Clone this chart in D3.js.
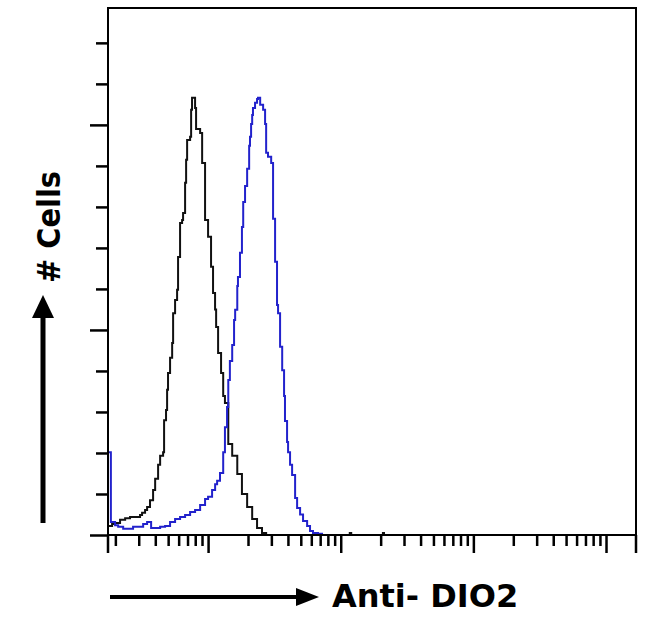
<!DOCTYPE html>
<html>
<head>
<meta charset="utf-8">
<script src="https://cdn.jsdelivr.net/npm/d3@7/dist/d3.min.js"></script>
<style>
  html, body { margin: 0; padding: 0; background: #fff; }
  svg { display: block; }
</style>
</head>
<body>
<svg id="chart" width="650" height="634"></svg>
<script>
// ---- data (fluorescence intensity, log axis; counts, linear axis) ----
const controlX = [1.76, 1.89, 1.99, 2.17, 2.37, 2.58, 2.82, 3.07, 3.18, 3.35, 3.47, 3.65, 3.85, 3.99, 4.20, 4.35, 4.58, 4.66, 4.82, 4.91, 4.99, 5.17, 5.36, 5.45, 5.64, 5.84, 5.94, 6.15, 6.37, 6.48, 6.71, 6.83, 6.95, 7.32, 7.45, 7.57, 7.70, 7.98, 8.12, 8.71, 9.02, 9.49, 10.0, 10.53, 10.9, 11.29, 11.5, 11.9, 12.53, 13.0, 13.4, 14.2, 15.2, 16.6, 18.0, 19.7, 21.5, 23.4, 25.5, 27.4, 117, 120, 208, 212];
const controlCounts = [2.2, 2.7, 2.9, 3.7, 4.1, 4.4, 4.4, 4.9, 5.4, 6.1, 6.8, 8.5, 11.0, 13.7, 17.1, 19.3, 20.2, 28.0, 30.5, 35.4, 39.5, 43.2, 46.8, 54.1, 57.3, 59.8, 67.8, 76.1, 76.8, 78.5, 85.9, 91.5, 96.3, 97.1, 103.7, 106.6, 106.6, 104.1, 99.0, 98.0, 90.7, 76.8, 72.7, 65.4, 59.0, 55.0, 50.7, 44.4, 39.5, 33.9, 32.2, 22.2, 19.3, 14.9, 10.0, 6.8, 3.9, 1.7, 0.5, 0, 0.5, 0, 0.5, 0];

const dio2X = [1.76, 1.82, 1.85, 1.99, 2.10, 2.29, 2.49, 2.72, 2.97, 3.24, 3.47, 3.72, 3.99, 4.35, 4.74, 5.17, 5.64, 6.15, 6.71, 7.32, 7.98, 8.71, 9.49, 10.0, 10.72, 11.3, 11.7, 12.3, 13.0, 13.4, 13.9, 14.2, 14.6, 15.2, 15.7, 16.0, 16.6, 16.8, 17.4, 18.0, 18.4, 19.0, 19.7, 20.4, 20.7, 21.1, 21.5, 21.8, 22.6, 23.4, 23.8, 24.7, 26.0, 26.9, 27.4, 28.3, 29.9, 30.9, 32.0, 33.1, 33.7, 34.9, 36.2, 37.4, 38.0, 39.4, 40.1, 41.5, 43.0, 45.3, 46.9, 49.4, 52.0, 55.8, 58.7, 61.8, 67.4, 72.3];
const dio2Counts = [20.2, 20.2, 3.2, 2.4, 2.0, 1.5, 1.5, 2.0, 2.0, 2.7, 3.2, 1.7, 1.7, 2.0, 2.2, 3.2, 3.9, 4.4, 4.9, 5.6, 6.1, 7.3, 8.8, 9.3, 11.0, 12.4, 13.2, 15.1, 20.2, 26.3, 31.2, 37.8, 42.4, 46.3, 52.4, 54.9, 60.7, 62.9, 68.8, 75.1, 81.2, 85.1, 89.3, 94.9, 97.1, 100.2, 102.4, 104.1, 105.4, 106.3, 106.6, 104.9, 103.7, 100.2, 93.2, 92.2, 90.7, 77.1, 66.6, 56.1, 54.1, 45.9, 40.2, 33.9, 27.8, 22.7, 20.2, 17.1, 14.6, 9.0, 6.6, 5.0, 3.4, 2.2, 1.0, 0.5, 0.3, 0];

const xDomain = [1.76, 16830];
const yDomain = [0, 128.5];
const xMajorTicks = [10, 100, 1000, 10000];
const xMinorTicks = [2, 3, 4, 5, 6, 7, 8, 9, 20, 30, 40, 50, 60, 70, 80, 90, 200, 300, 400, 500, 600, 700, 800, 900, 2000, 3000, 4000, 5000, 6000, 7000, 8000, 9000];
const yMajorTicks = [0, 50, 100];
const yMinorTicks = [10, 20, 30, 40, 60, 70, 80, 90, 110, 120];
const xTitle = "Anti- DIO2";
const yTitle = "# Cells";

// ---- layout ----
const plotL = 108, plotR = 636, plotT = 8, plotB = 535;
const svg = d3.select("#chart");

const x = d3.scaleLog().domain(xDomain).range([plotL, plotR]);
const y = d3.scaleLinear().domain(yDomain).range([plotB, plotT]);

// curves
const line = d3.line()
  .x(d => x(d[0]))
  .y(d => y(d[1]))
  .curve(d3.curveStepAfter);

svg.append("path")
  .datum(controlX.map((v, i) => [v, controlCounts[i]]))
  .attr("d", line)
  .attr("fill", "none")
  .attr("stroke", "#111")
  .attr("stroke-width", 2);

svg.append("path")
  .datum(dio2X.map((v, i) => [v, dio2Counts[i]]))
  .attr("d", line)
  .attr("fill", "none")
  .attr("stroke", "#2222cc")
  .attr("stroke-width", 2);

// axes (no labels)
function styleAxis(g) {
  g.select(".domain").remove();
  g.selectAll(".tick line").attr("stroke", "#000").attr("stroke-width", 2.5);
  g.selectAll(".tick text").remove();
}
svg.append("g").attr("transform", `translate(0,${plotB})`)
  .call(d3.axisBottom(x).tickValues(xMajorTicks).tickSize(18).tickFormat(""))
  .call(styleAxis);
svg.append("g").attr("transform", `translate(0,${plotB})`)
  .call(d3.axisBottom(x).tickValues(xMinorTicks).tickSize(11).tickFormat(""))
  .call(styleAxis);
svg.append("g").attr("transform", `translate(${plotL},0)`)
  .call(d3.axisLeft(y).tickValues(yMajorTicks).tickSize(18).tickFormat(""))
  .call(styleAxis);
svg.append("g").attr("transform", `translate(${plotL},0)`)
  .call(d3.axisLeft(y).tickValues(yMinorTicks).tickSize(12).tickFormat(""))
  .call(styleAxis);

// frame
svg.append("rect")
  .attr("x", plotL).attr("y", plotT)
  .attr("width", plotR - plotL).attr("height", plotB - plotT)
  .attr("fill", "none").attr("stroke", "#000").attr("stroke-width", 2);
[plotL, plotR].forEach(px => {
  svg.append("line").attr("x1", px).attr("x2", px)
    .attr("y1", plotB).attr("y2", plotB + 18)
    .attr("stroke", "#000").attr("stroke-width", 2.5);
});

// arrows
svg.append("line").attr("x1", 43).attr("x2", 43).attr("y1", 523).attr("y2", 314)
  .attr("stroke", "#000").attr("stroke-width", 5);
svg.append("path").attr("d", "M43,295 L32,318 L54,318 Z").attr("fill", "#000");

svg.append("line").attr("x1", 110).attr("x2", 300).attr("y1", 597).attr("y2", 597)
  .attr("stroke", "#000").attr("stroke-width", 4);
svg.append("path").attr("d", "M319,597 L296,588 L296,606 Z").attr("fill", "#000");

// titles
svg.append("text")
  .attr("x", 332).attr("y", 607)
  .attr("font-family", "DejaVu Sans")
  .attr("font-weight", "bold")
  .attr("font-size", 32)
  .attr("fill", "#000")
  .text(xTitle);

svg.append("text")
  .attr("transform", "translate(60,283) rotate(-90)")
  .attr("font-family", "DejaVu Sans")
  .attr("font-weight", "bold")
  .attr("font-size", 32)
  .attr("textLength", 112)
  .attr("lengthAdjust", "spacingAndGlyphs")
  .attr("fill", "#000")
  .text(yTitle);
</script>
</body>
</html>
